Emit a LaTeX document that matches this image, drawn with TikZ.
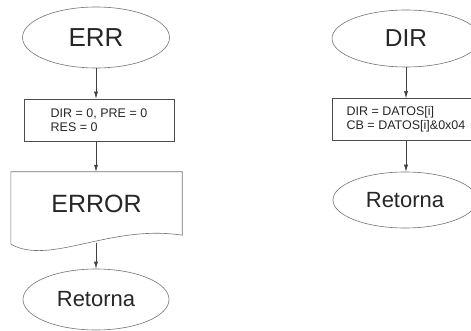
\documentclass[tikz,border=0pt]{standalone}
\usepackage{fontspec}
\setmainfont{Liberation Sans}
\usetikzlibrary{shapes.geometric,arrows.meta}

\begin{document}
\begin{tikzpicture}[x=1pt,y=-1pt]

\tikzset{term/.style = {shape=ellipse,draw=black!55,line width=0.6pt,inner sep=0pt,text=black!85}}
\tikzset{proc/.style = {shape=rectangle,draw=black!70,line width=0.7pt,minimum width=150pt,minimum height=42pt,align=left,inner sep=0pt,text=black!85,font=\fontsize{12.5}{14.5}\selectfont}}
\tikzset{arc/.style = {-{Latex[length=7pt,width=4pt]},draw=black!75,line width=0.6pt}}

\useasboundingbox (0,0) rectangle (471,331);

% left column
\node[term,minimum width=147pt,minimum height=61pt,font=\fontsize{26}{28}\selectfont] (err) at (96,37.5) {ERR};
\node[proc] (reset) at (99,120) {DIR = 0, PRE = 0\\RES = 0};
\node[minimum width=171pt,minimum height=63pt,inner sep=0pt,text=black!85,font=\fontsize{25}{27}\selectfont] (error) at (96.5,203.5) {ERROR};
\node[term,minimum width=146pt,minimum height=61pt,font=\fontsize{22}{24}\selectfont] (ret1) at (96,299.5) {Retorna};

% document shape
\draw[draw=black!55,line width=0.6pt] ([yshift=-9pt]error.south west) -- (error.north west) -- (error.north east) -- (error.south east)
  .. controls (110,224) and (50,266) .. cycle;
\coordinate (errbot) at (96,242.5);

% right column
\node[term,minimum width=148pt,minimum height=57pt,font=\fontsize{24.5}{26}\selectfont] (dir) at (406,38.5) {DIR};
\node[proc,minimum width=148pt] (load) at (406,119.5) {DIR = DATOS[i]\\CB = DATOS[i]\&0x04};
\node[term,minimum width=144pt,minimum height=56pt,font=\fontsize{22}{24}\selectfont] (ret2) at (405,200) {Retorna};

% arcs
\draw[arc] (err.south) -- (err.south |- reset.north);
\draw[arc] (err.south |- reset.south) -- (err.south |- error.north);
\draw[arc] (errbot) -- (errbot |- ret1.north);
\draw[arc] (dir.south) -- (load.north);
\draw[arc] (load.south) -- (load.south |- ret2.north);

\end{tikzpicture}
\end{document}
